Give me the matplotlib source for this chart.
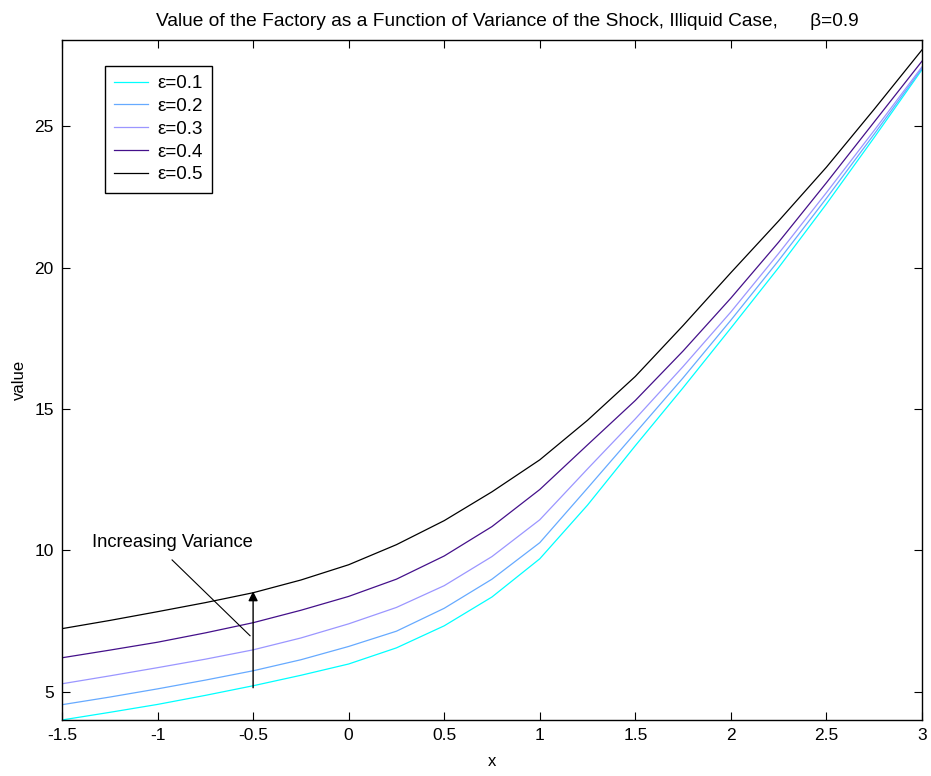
import matplotlib
matplotlib.use("Agg")
import matplotlib.pyplot as plt

plt.rcParams["font.family"] = ["Liberation Sans", "DejaVu Sans"]

# ── Data ────────────────────────────────────────────────────────
x = [-1.5, -1.25, -1.0, -0.75, -0.5, -0.25, 0.0, 0.25, 0.5, 0.75,
     1.0, 1.25, 1.5, 1.75, 2.0, 2.25, 2.5, 2.75, 3.0]

eps_01 = [4.00, 4.27, 4.55, 4.87, 5.21, 5.58, 5.98, 6.55, 7.33, 8.35,
          9.70, 11.60, 13.70, 15.75, 17.86, 20.00, 22.25, 24.60, 27.00]
eps_02 = [4.54, 4.81, 5.10, 5.41, 5.74, 6.13, 6.60, 7.14, 7.95, 8.98,
          10.27, 12.20, 14.15, 16.10, 18.14, 20.25, 22.45, 24.72, 27.05]
eps_03 = [5.28, 5.56, 5.85, 6.15, 6.48, 6.90, 7.40, 7.98, 8.75, 9.78,
          11.08, 12.88, 14.65, 16.50, 18.43, 20.50, 22.65, 24.85, 27.10]
eps_04 = [6.20, 6.47, 6.75, 7.08, 7.44, 7.88, 8.37, 8.98, 9.80, 10.84,
          12.15, 13.73, 15.30, 17.05, 18.92, 20.90, 23.00, 25.15, 27.30]
eps_05 = [7.23, 7.52, 7.83, 8.15, 8.50, 8.95, 9.49, 10.20, 11.05, 12.07,
          13.20, 14.60, 16.15, 17.95, 19.82, 21.65, 23.55, 25.60, 27.70]

labels = ["ε=0.1", "ε=0.2", "ε=0.3", "ε=0.4", "ε=0.5"]
colors = ["#00FFFF", "#66AAFF", "#9B96FF", "#44108A", "#000000"]

xticks = [-1.5, -1, -0.5, 0, 0.5, 1, 1.5, 2, 2.5, 3]
xtick_labels = ["-1.5", "-1", "-0.5", "0", "0.5", "1", "1.5", "2", "2.5", "3"]
yticks = [5, 10, 15, 20, 25]

# ── Figure ──────────────────────────────────────────────────────
fig = plt.figure(figsize=(9.31, 7.76), dpi=100)
ax = fig.add_axes([0.0666, 0.0722, 0.9237, 0.8763])

for series, lab, col in zip([eps_01, eps_02, eps_03, eps_04, eps_05], labels, colors):
    ax.plot(x, series, color=col, lw=0.9, label=lab)

ax.set_xlim(-1.5, 3)
ax.set_ylim(4.0, 28.05)
ax.set_xticks(xticks)
ax.set_xticklabels(xtick_labels)
ax.set_yticks(yticks)
ax.tick_params(direction="in", length=6, width=0.8, top=True, right=True,
               labelsize=12.5, pad=6)
for sp in ax.spines.values():
    sp.set_linewidth(1.0)

ax.set_xlabel("x", fontsize=12, labelpad=8)
ax.set_ylabel("value", fontsize=12, labelpad=5)
ax.set_title("Value of the Factory as a Function of Variance of the Shock, Illiquid Case,      β=0.9",
             fontsize=13.8, pad=10, x=0.518)

leg = ax.legend(loc="upper left", bbox_to_anchor=(0.05, 0.962), fontsize=13.5,
                frameon=True, fancybox=False, edgecolor="black", framealpha=1,
                handlelength=1.8, handletextpad=0.5, labelspacing=0.3,
                borderpad=0.5, borderaxespad=0)
leg.get_frame().set_linewidth(1.0)

# annotation: "Increasing Variance"
ax.text(-1.343, 10.27, "Increasing Variance", fontsize=13.2, va="center", ha="left")
ax.plot([-0.924, -0.516], [9.66, 6.98], color="black", lw=0.8)
ax.annotate("", xy=(-0.5, 8.55), xytext=(-0.5, 5.14),
            arrowprops=dict(arrowstyle="-|>", color="black", lw=1.0,
                            mutation_scale=14, shrinkA=0, shrinkB=0))

fig.savefig("out.png", dpi=100)
